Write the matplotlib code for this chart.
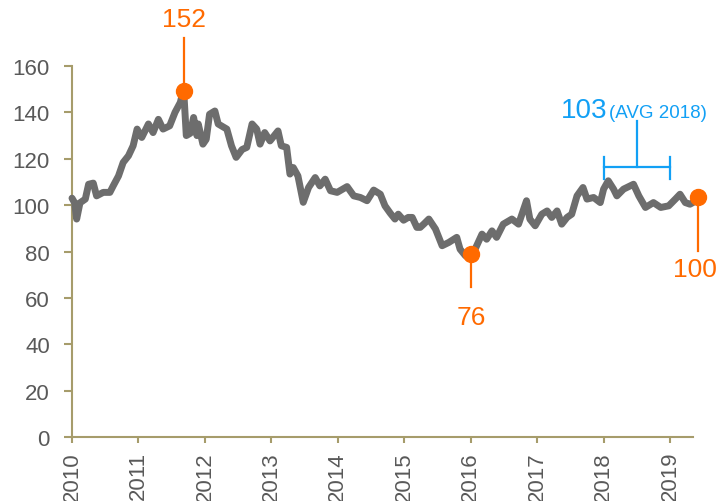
import matplotlib
matplotlib.use("Agg")
import matplotlib.pyplot as plt

plt.rcParams['font.family'] = ['Liberation Sans', 'DejaVu Sans']

# ---- data ----
years = [2010.00, 2010.04, 2010.07, 2010.12, 2010.20, 2010.25, 2010.32, 2010.37, 2010.47, 2010.57,
         2010.62, 2010.70, 2010.77, 2010.85, 2010.92, 2010.98, 2011.05, 2011.15, 2011.22, 2011.30,
         2011.37, 2011.47, 2011.55, 2011.63, 2011.68, 2011.72, 2011.78, 2011.83, 2011.88, 2011.90,
         2011.97, 2012.02, 2012.07, 2012.15, 2012.20, 2012.33, 2012.40, 2012.47, 2012.56, 2012.63,
         2012.71, 2012.78, 2012.83, 2012.90, 2012.98, 2013.10, 2013.15, 2013.23, 2013.28, 2013.33,
         2013.40, 2013.48, 2013.56, 2013.66, 2013.73, 2013.81, 2013.89, 2013.99, 2014.14, 2014.24,
         2014.34, 2014.44, 2014.54, 2014.64, 2014.71, 2014.79, 2014.86, 2014.91, 2014.99, 2015.06,
         2015.12, 2015.19, 2015.24, 2015.30, 2015.37, 2015.47, 2015.57, 2015.67, 2015.79, 2015.84,
         2015.92, 2016.01, 2016.09, 2016.17, 2016.24, 2016.32, 2016.39, 2016.49, 2016.62, 2016.72,
         2016.84, 2016.89, 2016.97, 2017.07, 2017.15, 2017.22, 2017.30, 2017.37, 2017.45, 2017.52,
         2017.60, 2017.69, 2017.75, 2017.85, 2017.95, 2018.00, 2018.07, 2018.15, 2018.20, 2018.30,
         2018.45, 2018.53, 2018.63, 2018.75, 2018.86, 2018.98, 2019.08, 2019.15, 2019.23, 2019.30,
         2019.40]
values = [103.0, 101.0, 94.0, 101.0, 102.6, 109.0, 109.5, 104.0, 105.5, 105.5,
          108.3, 112.6, 118.4, 121.3, 125.6, 132.8, 129.2, 135.0, 131.3, 137.0,
          132.8, 134.2, 140.0, 144.3, 150.0, 130.0, 131.0, 137.8, 130.0, 135.0,
          126.3, 128.4, 139.2, 140.6, 135.0, 132.8, 125.6, 120.6, 124.0, 124.9,
          135.0, 132.8, 126.3, 131.3, 127.7, 132.0, 125.6, 124.9, 113.4, 116.2,
          112.6, 101.2, 107.6, 111.9, 108.3, 111.2, 106.2, 105.5, 108.0, 104.0,
          103.3, 101.9, 106.5, 104.7, 99.7, 96.5, 94.0, 96.1, 93.5, 94.7,
          94.7, 90.4, 90.4, 92.0, 94.0, 89.7, 82.5, 83.9, 86.1, 81.0,
          78.2, 77.5, 82.5, 87.5, 85.3, 88.9, 86.1, 91.8, 94.0, 91.8,
          101.9, 94.0, 91.1, 96.1, 97.5, 94.7, 97.5, 91.8, 94.7, 96.1,
          104.0, 107.6, 102.6, 103.3, 101.1, 106.9, 110.5, 106.9, 104.0, 106.9,
          109.0, 104.0, 99.0, 101.1, 99.0, 99.7, 102.6, 104.7, 101.1, 100.4,
          102.0]

# highlighted points and their labels
marker_x = [2011.68, 2016.01, 2019.42]
marker_y = [149.3, 78.9, 103.3]
marker_labels = ['152', '76', '100']

avg_label = '103'
avg_note = '(AVG 2018)'
avg_start, avg_end = 2018.0, 2019.0

yticks = [0, 20, 40, 60, 80, 100, 120, 140, 160]
xticks = [2010, 2011, 2012, 2013, 2014, 2015, 2016, 2017, 2018, 2019]
xticklabels = [str(y) for y in xticks]

# ---- styling ----
GRAY = '#6d6d6d'
ORANGE = '#ff6a00'
BLUE = '#12a0f5'
SPINE = '#a69c6b'
TXT = '#595959'

fig = plt.figure(figsize=(7.2, 5.02), dpi=100)
ax = fig.add_axes([0.1, 0.1275, 0.862, 0.739])

ax.plot(years, values, color=GRAY, lw=5, solid_joinstyle='round',
        solid_capstyle='round', clip_on=False, zorder=3)

ax.set_xlim(2010, 2019.34)
ax.set_ylim(0, 160)
ax.set_yticks(yticks)
ax.set_xticks(xticks)
ax.set_xticklabels(xticklabels, rotation=90)

for s in ['top', 'right']:
    ax.spines[s].set_visible(False)
for s in ['left', 'bottom']:
    ax.spines[s].set_color(SPINE)
    ax.spines[s].set_linewidth(1.5)
ax.tick_params(axis='y', direction='out', length=6, width=1.5, color=SPINE,
               labelsize=16, labelcolor=TXT, pad=10)
ax.tick_params(axis='x', direction='out', length=4, width=1.5, color=SPINE,
               labelsize=16, labelcolor=TXT, pad=6)

# orange markers and leader lines
ax.plot(marker_x, marker_y, 'o', color=ORANGE, ms=11.5, clip_on=False, zorder=5)
# peak: line up
ax.plot([marker_x[0], marker_x[0]], [marker_y[0], 171.9], color=ORANGE, lw=1.6,
        clip_on=False, zorder=4)
ax.text(marker_x[0], 177.1, marker_labels[0], color=ORANGE, fontsize=19,
        ha='center', va='baseline', clip_on=False)
# trough: line down
ax.plot([marker_x[1], marker_x[1]], [marker_y[1], 64.5], color=ORANGE, lw=1.6,
        clip_on=False, zorder=4)
ax.text(marker_x[1], 48.7, marker_labels[1], color=ORANGE, fontsize=19,
        ha='center', va='baseline', clip_on=False)
# end: line down
ax.plot([marker_x[2], marker_x[2]], [marker_y[2], 80.3], color=ORANGE, lw=1.6,
        clip_on=False, zorder=4)
ax.text(2019.37, 72.4, marker_labels[2], color=ORANGE, fontsize=19,
        ha='center', va='center', clip_on=False)

# blue bracket for 2018 average
mid = (avg_start + avg_end) / 2
ax.plot([avg_start, avg_end], [116.3, 116.3], color=BLUE, lw=1.6, zorder=4)
for xx in (avg_start, avg_end):
    ax.plot([xx, xx], [111.3, 120.6], color=BLUE, lw=1.6, zorder=4)
ax.plot([mid, mid], [116.3, 136.4], color=BLUE, lw=1.6, zorder=4)
ax.text(2018.05, 137.8, avg_label, color=BLUE, fontsize=20, ha='right',
        va='baseline', clip_on=False)
ax.text(2018.08, 137.8, avg_note, color=BLUE, fontsize=13.5, ha='left',
        va='baseline', clip_on=False)

fig.savefig('out.png', dpi=100)
